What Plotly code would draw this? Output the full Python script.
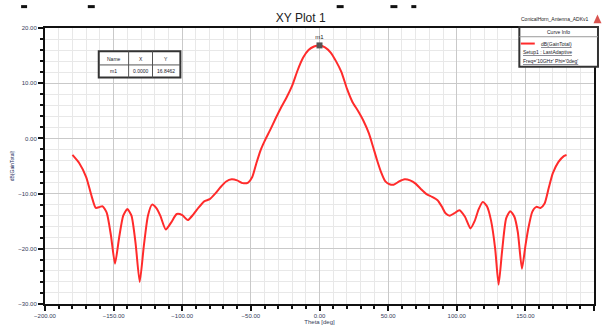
import plotly.graph_objects as go

# Far-field gain cut of the conical horn, Phi = 0 deg
theta_deg = [
    -180, -175, -170, -166, -163, -160, -158, -155, -152, -149, -146, -143,
    -140, -137, -134, -131, -128, -125, -122, -119, -116, -112, -108, -104,
    -100, -96, -92, -88, -84, -80, -76, -72, -68, -64, -60, -56, -52, -49,
    -46, -43, -40, -36, -32, -28, -24, -20, -16, -12, -8, -4, 0,
    4, 8, 12, 16, 20, 24, 28, 32, 36, 39, 42, 45, 48, 51, 54, 58, 62, 66,
    70, 74, 78, 82, 86, 89, 92, 95, 98, 102, 106, 110, 113, 116, 119, 122,
    125, 128, 130.5, 133, 136, 139, 142, 144.5, 147.5, 150, 152, 155, 158,
    161, 164, 167, 170, 174, 178, 180,
]
gain_db = [
    -3.0, -4.5, -7.0, -10.5, -12.6, -12.4, -12.3, -13.5, -17.5, -22.7, -18.0, -14.0,
    -12.8, -14.0, -19.0, -26.0, -19.5, -14.0, -12.0, -12.6, -14.0, -16.5, -15.2, -13.7,
    -13.9, -14.8, -13.8, -12.5, -11.4, -11.0, -10.0, -8.8, -7.8, -7.4, -7.6, -8.1, -8.0, -7.0,
    -4.5, -2.2, -0.5, 1.5, 3.6, 5.6, 7.4, 9.5, 12.3, 14.6, 16.0, 16.65, 16.8462,
    16.5, 15.6, 14.0, 12.0, 9.0, 6.6, 5.0, 3.2, 0.9, -1.5, -4.0, -6.2, -7.8, -8.3, -8.4, -7.8, -7.4, -7.6,
    -8.2, -9.2, -10.1, -10.6, -11.2, -12.3, -13.6, -14.0, -13.6, -13.0, -14.2, -16.3, -15.0, -12.8, -11.5, -12.3,
    -14.9, -20.0, -26.5, -20.5, -14.5, -13.2, -14.2, -17.0, -23.6, -19.5, -16.5, -13.3, -12.4,
    -12.6, -11.8, -9.0, -6.3, -4.3, -3.2, -3.0,
]

marker_name = "m1"
marker_theta = 0.0
marker_gain = gain_db[theta_deg.index(marker_theta)]

x_ticks = [-200, -150, -100, -50, 0, 50, 100, 150, 200]
y_ticks = [-30, -20, -10, 0, 10, 20]

legend_lines = ["dB(GainTotal)", "Setup1 : LastAdaptive", "Freq='10GHz' Phi='0deg'"]

tick_font = dict(family="Liberation Sans, Arial, sans-serif", size=6, color="#34405a")
small_font = dict(family="Liberation Sans, Arial, sans-serif", size=5, color="#1a1a2a")

fig = go.Figure()
fig.add_trace(go.Scatter(
    x=theta_deg, y=gain_db, mode="lines",
    line=dict(color="#ff2b2b", width=2, shape="spline", smoothing=0.6),
    showlegend=False, hoverinfo="skip",
))
fig.add_trace(go.Scatter(
    x=[marker_theta], y=[marker_gain], mode="markers+text",
    marker=dict(symbol="square", size=6, color="#555555"),
    text=[marker_name], textposition="top center",
    textfont=dict(family="Liberation Sans, Arial, sans-serif", size=6, color="#222"),
    showlegend=False, hoverinfo="skip",
))

axis_common = dict(
    showline=True, linecolor="#111111", linewidth=2, mirror=True,
    ticks="outside", ticklen=5, tickwidth=2, tickcolor="#111111",
    tickfont=tick_font, tickformat=".2f",
    showgrid=True, gridcolor="#c9c9c9", gridwidth=1, zeroline=False,
)
fig.update_xaxes(
    range=[-200, 200], tickvals=x_ticks,
    minor=dict(dtick=10, ticks="outside", ticklen=3, tickwidth=2, tickcolor="#111111",
               showgrid=True, gridcolor="#e8e8e8", gridwidth=1),
    title=dict(text="Theta [deg]", font=tick_font, standoff=1),
    **axis_common,
)
fig.update_yaxes(
    range=[-30, 20], tickvals=y_ticks,
    minor=dict(dtick=2, ticks="outside", ticklen=3, tickwidth=2, tickcolor="#111111",
               showgrid=True, gridcolor="#e8e8e8", gridwidth=1),
    title=dict(text="dB(GainTotal)", font=dict(family="Liberation Sans, Arial, sans-serif", size=5, color="#1a2a5a"), standoff=4),
    **axis_common,
)

shapes = []
annotations = []

# Marker table (Name / X / Y)
tx0, tx1, ty0, ty1 = 99, 181, 52, 79
cols = [99, 129, 153, 181]
row_mid = 66
for x0, x1, y0, y1 in [(tx0, tx1, ty0, ty1)]:
    shapes.append(dict(type="rect", xref="paper", yref="paper",
                       x0=0, x1=0, y0=0, y1=0, line=dict(width=0)))
W, H = 603, 331
L, R, T, B = 45, 596.5, 28, 312
pw, ph = R - L, B - T

def px(x):
    return (x - L) / pw

def py(y):
    return (B - y) / ph

shapes = [dict(type="rect", xref="paper", yref="paper",
               x0=px(tx0), x1=px(tx1), y0=py(ty1), y1=py(ty0),
               fillcolor="white", line=dict(color="#333333", width=2), layer="above")]
for c in cols[1:-1]:
    shapes.append(dict(type="line", xref="paper", yref="paper",
                       x0=px(c), x1=px(c), y0=py(ty1), y1=py(ty0),
                       line=dict(color="#555555", width=1)))
shapes.append(dict(type="line", xref="paper", yref="paper",
                   x0=px(tx0), x1=px(tx1), y0=py(row_mid), y1=py(row_mid),
                   line=dict(color="#555555", width=1)))
table_rows = [["Name", "X", "Y"],
              [marker_name, f"{marker_theta:.4f}", f"{marker_gain:.4f}"]]
for r, (yc, row) in enumerate(zip([59.5, 72.5], table_rows)):
    for c, val in enumerate(row):
        annotations.append(dict(xref="paper", yref="paper",
                                x=px((cols[c] + cols[c + 1]) / 2), y=py(yc),
                                text=val, showarrow=False, font=small_font,
                                xanchor="center", yanchor="middle"))

# Curve info box
lx0, lx1, ly0, ly1 = 521.5, 600.5, 27, 68
shapes.append(dict(type="rect", xref="paper", yref="paper",
                   x0=px(lx0), x1=px(lx1), y0=py(ly1), y1=py(ly0),
                   fillcolor="white", line=dict(color="#333333", width=2), layer="above"))
shapes.append(dict(type="line", xref="paper", yref="paper",
                   x0=px(lx0), x1=px(lx1), y0=py(37), y1=py(37),
                   line=dict(color="#999999", width=1)))
shapes.append(dict(type="line", xref="paper", yref="paper",
                   x0=px(523), x1=px(537), y0=py(44), y1=py(44),
                   line=dict(color="#ff2b2b", width=2)))
annotations.append(dict(xref="paper", yref="paper", x=px((lx0 + lx1) / 2), y=py(32),
                        text="Curve Info", showarrow=False, font=small_font,
                        xanchor="center", yanchor="middle"))
for yc, xl, txt in [(44, 541, legend_lines[0]), (53, 523, legend_lines[1]), (62, 523, legend_lines[2])]:
    annotations.append(dict(xref="paper", yref="paper", x=px(xl), y=py(yc),
                            text=f"<u>{txt}</u>", showarrow=False, font=small_font,
                            xanchor="left", yanchor="middle"))

# Design name and logo corner
annotations.append(dict(xref="paper", yref="paper", x=px(592), y=py(19),
                        text="ConicalHorn_Antenna_ADKv1", showarrow=False,
                        font=dict(family="Liberation Sans, Arial, sans-serif", size=5, color="#222"),
                        xanchor="right", yanchor="middle"))
shapes.append(dict(type="path", xref="paper", yref="paper",
                   path=f"M {px(596)} {py(23)} L {px(600)} {py(14)} L {px(604)} {py(23)} Z",
                   fillcolor="#d9534f", line=dict(width=0)))

# Clipped header fragments along the top edge
for x0, x1 in [(21, 27), (88, 95), (338, 345), (392, 399), (413, 418)]:
    shapes.append(dict(type="line", xref="paper", yref="paper",
                       x0=px(x0), x1=px(x1), y0=py(6), y1=py(6),
                       line=dict(color="#111111", width=3)))

fig.update_layout(
    width=W, height=H,
    margin=dict(l=L, r=W - R, t=T, b=H - B),
    paper_bgcolor="white", plot_bgcolor="white",
    title=dict(text="XY Plot 1", x=px(320), xanchor="center", y=1 - 18 / H, yanchor="middle",
               font=dict(family="Liberation Sans, Arial, sans-serif", size=12, color="#222")),
    shapes=shapes, annotations=annotations,
)

fig.write_html("out.html")
